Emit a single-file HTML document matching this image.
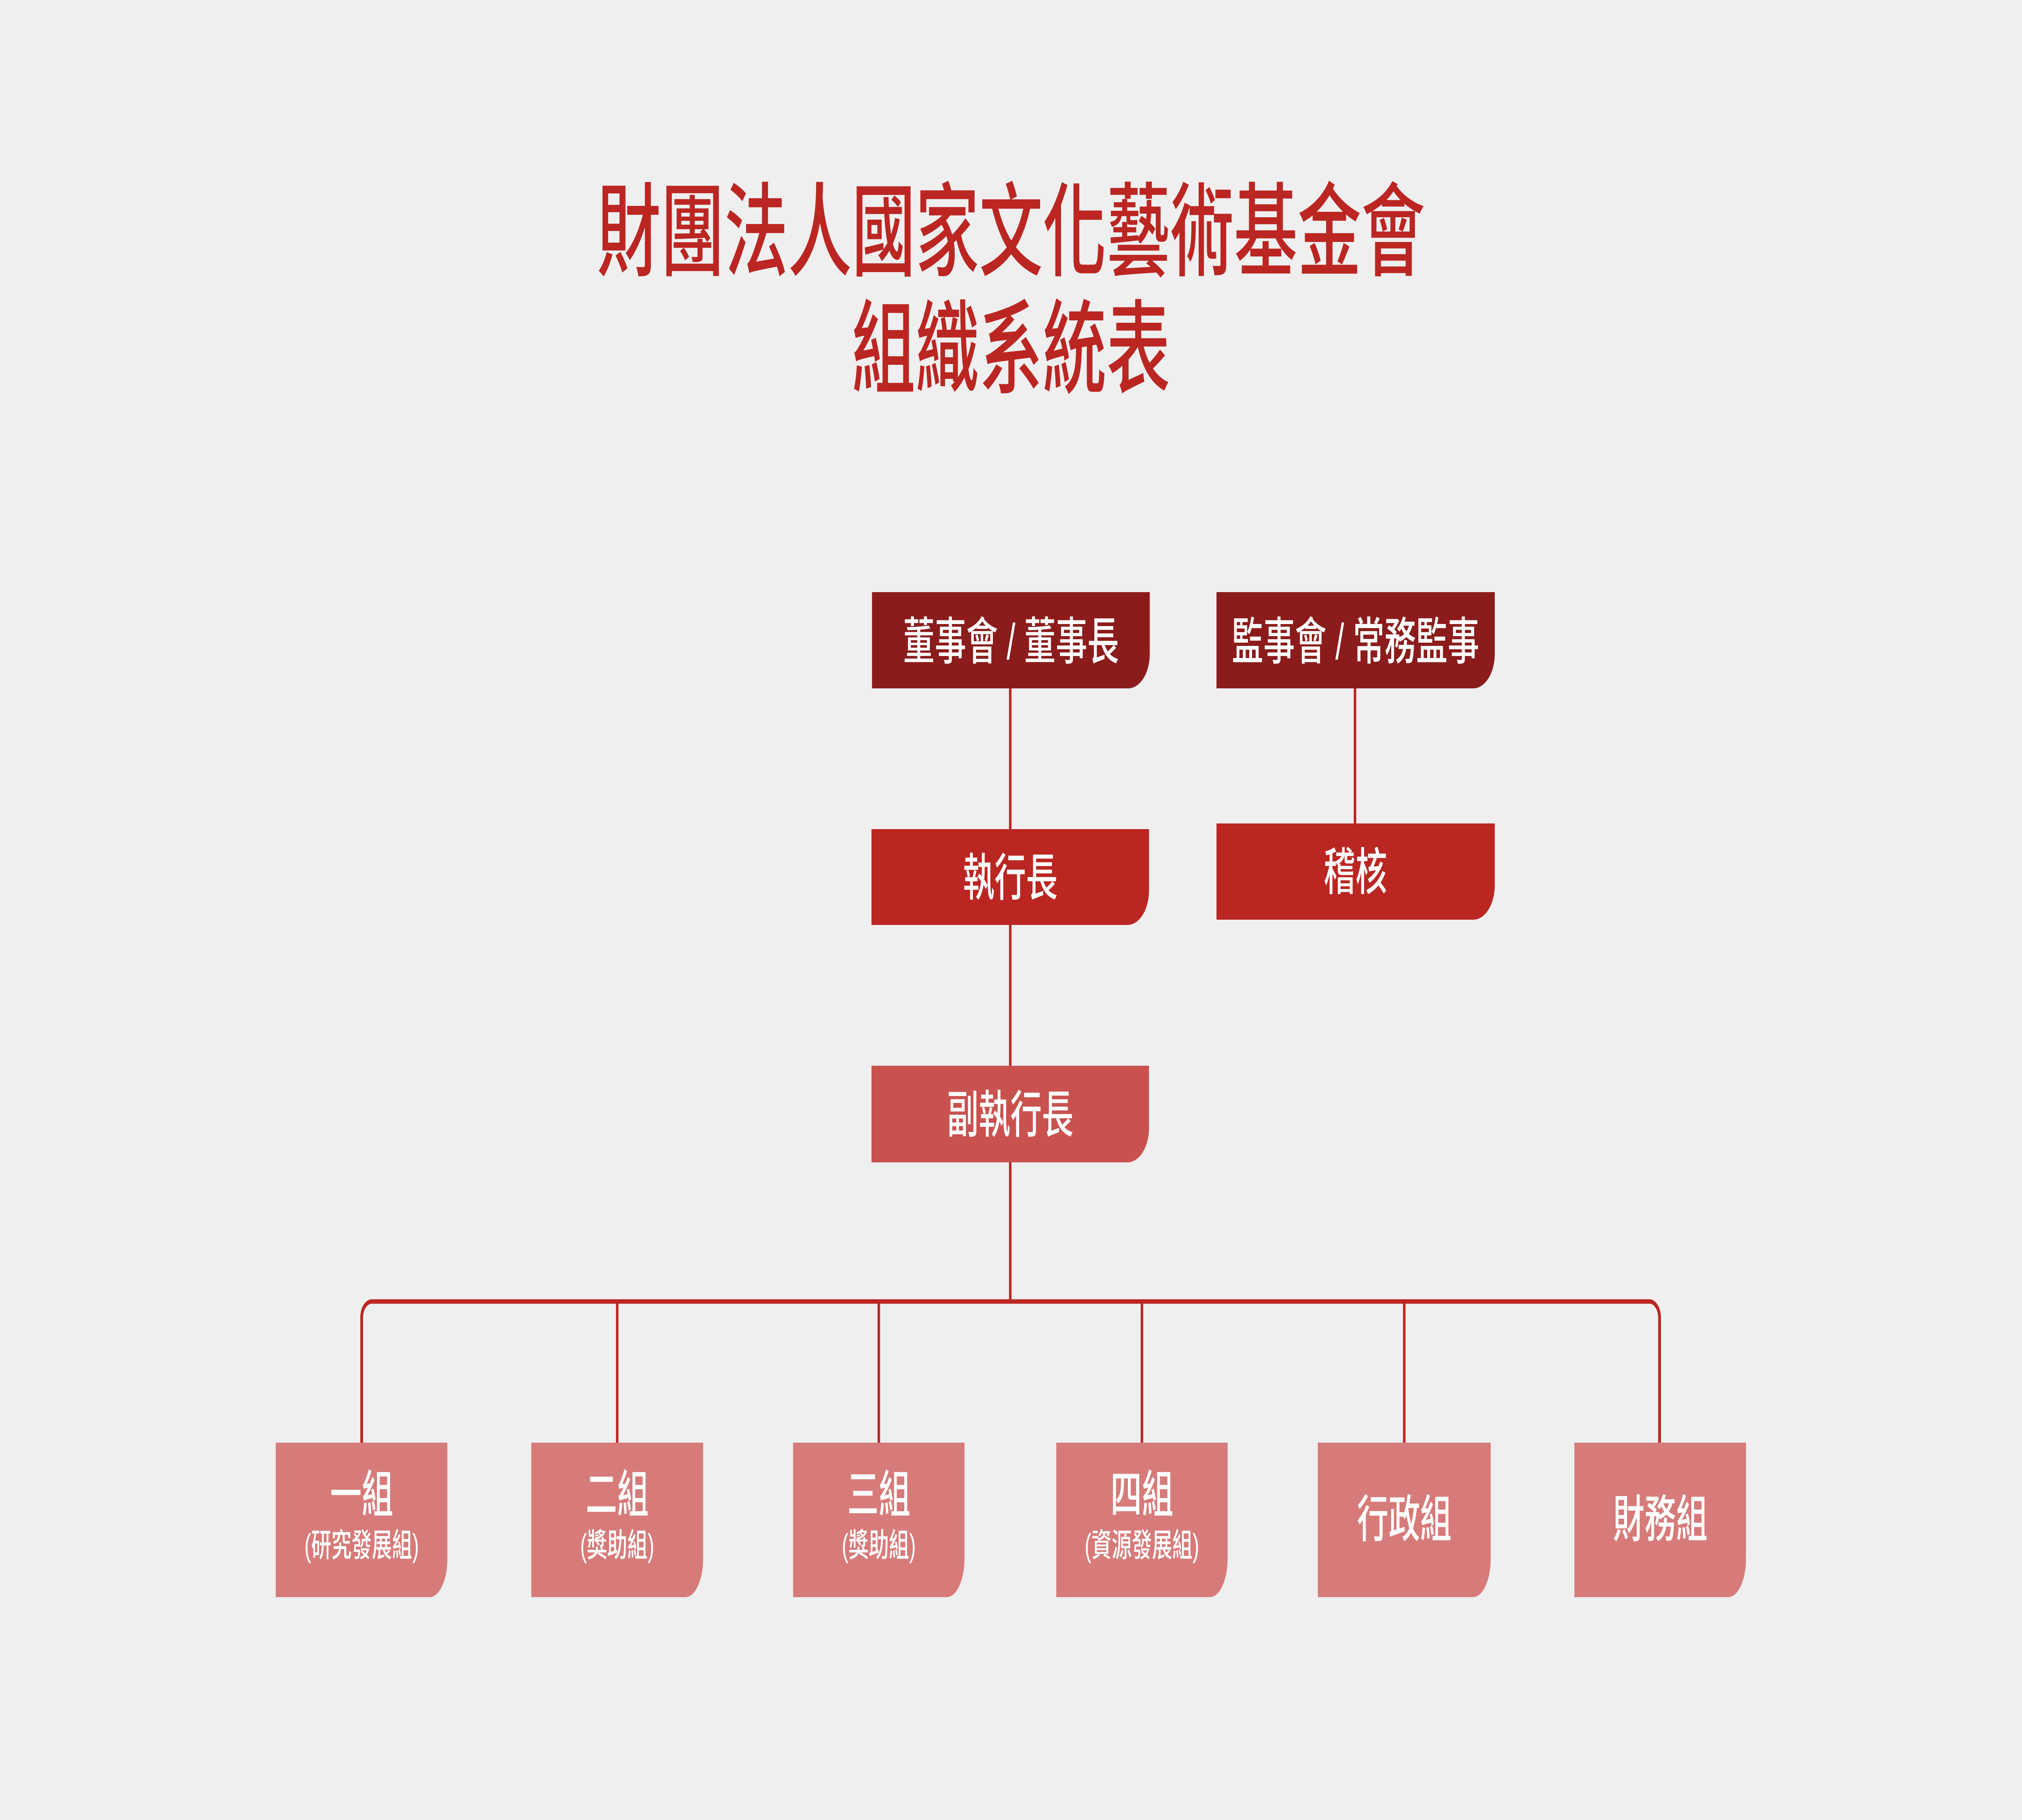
<!DOCTYPE html>
<html><head><meta charset="utf-8"><style>
html,body{margin:0;padding:0;width:100vw;height:100vh;overflow:hidden;background:#efefef;}
svg{position:absolute;left:0;top:0;width:100vw;height:100vh;display:block;}
text{font-family:"Liberation Sans","Noto Sans CJK TC",sans-serif;font-weight:500;text-anchor:middle;dominant-baseline:central;}
.w{fill:#fff}
</style></head><body>
<svg viewBox="0 0 8000 4500" preserveAspectRatio="none" xmlns="http://www.w3.org/2000/svg">
<rect width="8000" height="4500" fill="#efefef"/>
<text x="4000" y="575" font-size="252" fill="#bb2622">財團法人國家文化藝術基金會</text>
<text x="4000" y="865" font-size="252" fill="#bb2622">組織系統表</text>

<g stroke="#bb2622" fill="none" stroke-width="10">
<path d="M3997 1700V3222"/>
<path d="M5361 1700V2040"/>
<path d="M1431 3570V3258A40 40 0 0 1 1471 3218H6526A40 40 0 0 1 6566 3258V3570" stroke-width="11"/>
<path d="M2442 3218V3570M3477 3218V3570M4518 3218V3570M5556 3218V3570"/>
</g>

<path d="M3450 1464H4549V1617A85 85 0 0 1 4464 1702H3450Z" fill="#8b1c1b"/>
<path d="M4813 1464H5914V1617A85 85 0 0 1 5829 1702H4813Z" fill="#8b1c1b"/>
<path d="M3448 2050H4546V2202A85 85 0 0 1 4461 2287H3448Z" fill="#bb2622"/>
<path d="M4813 2036H5914V2189A85 85 0 0 1 5829 2274H4813Z" fill="#bb2622"/>
<path d="M3448 2635H4546V2789A85 85 0 0 1 4461 2874H3448Z" fill="#c9524f"/>

<g fill="#d67b79">
<path d="M1091 3567H1770V3854A70 95 0 0 1 1700 3949H1091Z"/>
<path d="M2102 3567H2782V3854A70 95 0 0 1 2712 3949H2102Z"/>
<path d="M3138 3567H3816V3854A70 95 0 0 1 3746 3949H3138Z"/>
<path d="M4179 3567H4857V3854A70 95 0 0 1 4787 3949H4179Z"/>
<path d="M5214 3567H5898V3854A70 95 0 0 1 5828 3949H5214Z"/>
<path d="M6229 3567H6908V3854A70 95 0 0 1 6838 3949H6229Z"/>
</g>

<text class="w" x="4000" y="1588" font-size="125">董事會 / 董事長</text>
<text class="w" x="5363" y="1588" font-size="125">監事會 / 常務監事</text>
<text class="w" x="3997" y="2172" font-size="125">執行長</text>
<text class="w" x="5363" y="2158" font-size="125">稽核</text>
<text class="w" x="3997" y="2758" font-size="125">副執行長</text>

<text class="w" x="1431" y="3697" font-size="125">一組</text>
<text class="w" x="1431" y="3822" font-size="80">(研究發展組)</text>
<text class="w" x="2442" y="3697" font-size="125">二組</text>
<text class="w" x="2442" y="3822" font-size="80">(獎助組)</text>
<text class="w" x="3477" y="3697" font-size="125">三組</text>
<text class="w" x="3477" y="3822" font-size="80">(獎助組)</text>
<text class="w" x="4518" y="3697" font-size="125">四組</text>
<text class="w" x="4518" y="3822" font-size="80">(資源發展組)</text>
<text class="w" x="5556" y="3758" font-size="125">行政組</text>
<text class="w" x="6569" y="3758" font-size="125">財務組</text>
</svg>
</body></html>
